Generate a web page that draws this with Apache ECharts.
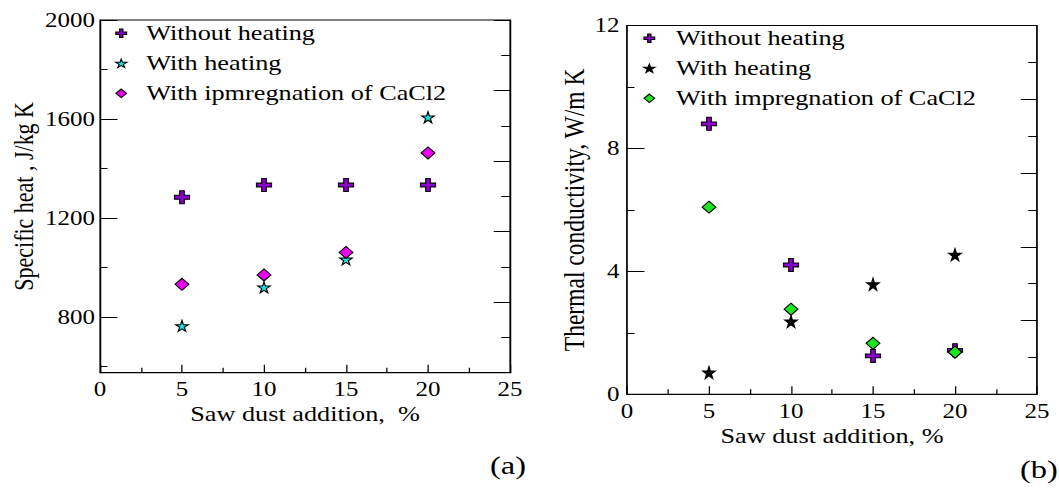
<!DOCTYPE html>
<html lang="en">
  <head>
    <meta charset="UTF-8" />
    <title>Specific heat and thermal conductivity vs saw dust</title>
    <script src="https://cdn.jsdelivr.net/npm/echarts@6.0.0/dist/echarts.min.js"></script>
    <style>
      html, body { margin: 0; padding: 0; background: #fff; overflow: hidden; }
      /* the source figure is stretched sideways, so the chart is drawn narrow and widened */
      #main { width: 847.2px; height: 496px; transform: scaleX(1.25); transform-origin: 0 0; }
    </style>
  </head>
  <body>
    <div id="main"></div>

    <script>
      // saw dust addition, %
      const sawDust = [5, 10, 15, 20];

      // (a) specific heat, J/kg K
      const heatWithout = [1284, 1333, 1333, 1333];
      const heatWith = [764, 920, 1033, 1607];
      const heatCaCl2 = [932, 970, 1061, 1463];

      // (b) thermal conductivity, W/m K
      const condWithout = [8.8, 4.21, 1.25, 1.43];
      const condWith = [0.71, 2.37, 3.58, 4.54];
      const condCaCl2 = [6.09, 2.77, 1.66, 1.37];

      const heatLabels = [800, 1200, 1600, 2000];
      const heatMinor = [600, 1000, 1400, 1800];

      const font = 'Liberation Serif';
      const plusIcon = 'path://M35,0 L65,0 L65,35 L100,35 L100,65 L65,65 L65,100 L35,100 L35,65 L0,65 L0,35 L35,35 Z';
      const starIcon = 'path://M50,0 L61,35 L98,35 L68,57 L79,91 L50,70 L21,91 L32,57 L2,35 L39,35 Z';
      const diamondIcon = 'path://M50,0 L100,50 L50,100 L0,50 Z';

      const purple = '#8a00cc';
      const cyan = '#1fe3e3';
      const magenta = '#f000f0';
      const green = '#1ee61e';

      const pairs = (ys) => sawDust.map((x, i) => [x, ys[i]]);
      const plain = (v) => String(v);

      function xAxisFor(grid, name) {
        return {
          gridIndex: grid,
          type: 'value',
          min: 0,
          max: 25,
          interval: 5,
          name: name,
          nameLocation: 'middle',
          nameGap: 31,
          nameMoveOverlap: false,
          nameTextStyle: { fontFamily: font, fontSize: 21, color: '#000' },
          axisLine: { lineStyle: { color: '#000', width: 1 } },
          axisTick: { inside: true, length: 8, lineStyle: { color: '#000' } },
          minorTick: { show: true, splitNumber: 2, length: 5, lineStyle: { color: '#000' } },
          axisLabel: { fontFamily: font, fontSize: 20, color: '#000', margin: 7, formatter: plain },
          splitLine: { show: false },
        };
      }

      function frameRight(grid) {
        return {
          gridIndex: grid,
          type: 'value',
          position: 'right',
          min: 0,
          max: 5,
          interval: 1,
          axisLine: { show: true, lineStyle: { color: '#000', width: 1 } },
          axisTick: { show: true, inside: true, length: 13, lineStyle: { color: '#000' } },
          minorTick: { show: true, splitNumber: 2, length: 7, lineStyle: { color: '#000' } },
          axisLabel: { show: false },
          splitLine: { show: false },
        };
      }

      function scatter(name, xi, yi, ys, symbol, size, color) {
        return {
          name: name,
          type: 'scatter',
          xAxisIndex: xi,
          yAxisIndex: yi,
          data: pairs(ys),
          symbol: symbol,
          symbolSize: size,
          itemStyle: { color: color, borderColor: '#000', borderWidth: 1, opacity: 1 },
        };
      }

      function legendItem(name, icon, color) {
        return { name: name, icon: icon,
          itemStyle: { color: color, borderColor: '#000', borderWidth: 1 } };
      }

      const legendBase = {
        orient: 'vertical',
        padding: 0,
        itemGap: 0,
        itemHeight: 8.5,
        selectedMode: false,
        symbolKeepAspect: true,
        textStyle: { fontFamily: font, fontSize: 21, color: '#000', lineHeight: 30 },
      };

      const options = {
        animation: false,
        backgroundColor: '#fff',
        title: [
          { text: '(a)', left: 392, top: 452, padding: 0,
            textStyle: { fontFamily: font, fontSize: 26, fontWeight: 'normal', color: '#000' } },
          { text: '(b)', left: 816, top: 456, padding: 0,
            textStyle: { fontFamily: font, fontSize: 26, fontWeight: 'normal', color: '#000' } },
        ],
        grid: [
          { left: 80, top: 20, width: 328, height: 352.7, outerBoundsMode: 'none',
            show: true, borderColor: '#000', borderWidth: 1 },
          { left: 80, top: 20, width: 328, height: 352.7, outerBoundsMode: 'none' },
          { left: 501.6, top: 25.5, width: 328, height: 368.8, outerBoundsMode: 'none',
            show: true, borderColor: '#000', borderWidth: 1 },
        ],
        legend: [
          Object.assign({}, legendBase, {
            left: 92,
            top: 18.3,
            itemWidth: 30,
            data: [
              legendItem('Without heating', plusIcon, purple),
              legendItem('With heating', starIcon, cyan),
              legendItem('With ipmregnation of CaCl2', diamondIcon, magenta),
            ],
          }),
          Object.assign({}, legendBase, {
            left: 514.5,
            top: 23.3,
            itemWidth: 32.6,
            data: [
              legendItem('Without heating', plusIcon, purple),
              legendItem('With heating', starIcon, '#000'),
              legendItem('With impregnation of CaCl2', diamondIcon, green),
            ],
          }),
        ],
        xAxis: [
          xAxisFor(0, 'Saw dust addition,  %'),
          { gridIndex: 1, type: 'value', min: 0, max: 25, show: false },
          xAxisFor(2, 'Saw dust addition, %'),
        ],
        yAxis: [
          {
            gridIndex: 0,
            type: 'value',
            position: 'left',
            min: 575,
            max: 2000,
            name: 'Specific heat , J/kg K',
            nameLocation: 'middle',
            nameGap: 50,
            nameMoveOverlap: false,
            nameTextStyle: { fontFamily: font, fontSize: 22, color: '#000' },
            axisLine: { show: true, lineStyle: { color: '#000', width: 1 } },
            axisTick: { show: true, inside: true, length: 14, customValues: heatLabels,
              lineStyle: { color: '#000' } },
            axisLabel: { fontFamily: font, fontSize: 20, color: '#000', margin: 4,
              customValues: heatLabels, formatter: plain },
            splitLine: { show: false },
          },
          frameRight(0),
          {
            gridIndex: 1,
            type: 'value',
            position: 'left',
            min: 575,
            max: 2000,
            axisLine: { show: false },
            axisTick: { show: true, inside: true, length: 6, customValues: heatMinor,
              lineStyle: { color: '#000' } },
            axisLabel: { show: false },
            splitLine: { show: false },
          },
          {
            gridIndex: 2,
            type: 'value',
            position: 'left',
            min: 0,
            max: 12,
            interval: 4,
            name: 'Thermal conductivity, W/m K',
            nameLocation: 'middle',
            nameGap: 30,
            nameMoveOverlap: false,
            nameTextStyle: { fontFamily: font, fontSize: 23.5, color: '#000' },
            axisLine: { show: true, lineStyle: { color: '#000', width: 1 } },
            axisTick: { show: true, inside: true, length: 14, lineStyle: { color: '#000' } },
            minorTick: { show: true, splitNumber: 2, length: 6, lineStyle: { color: '#000' } },
            axisLabel: { fontFamily: font, fontSize: 20, color: '#000', margin: 6, formatter: plain },
            splitLine: { show: false },
          },
          frameRight(2),
        ],
        series: [
          scatter('Without heating', 0, 0, heatWithout, plusIcon, [12, 13], purple),
          scatter('With heating', 0, 0, heatWith, starIcon, [10, 11], cyan),
          scatter('With ipmregnation of CaCl2', 0, 0, heatCaCl2, diamondIcon, [11, 12], magenta),
          scatter('Without heating', 2, 3, condWithout, plusIcon, [12, 13], purple),
          scatter('With heating', 2, 3, condWith, starIcon, [10, 12], '#000'),
          scatter('With impregnation of CaCl2', 2, 3, condCaCl2, diamondIcon, [11, 12], green),
        ],
      };

      var myChart = echarts.init(document.querySelector('#main'), null, { renderer: 'svg' });
      myChart.setOption(options);
    </script>
  </body>
</html>
